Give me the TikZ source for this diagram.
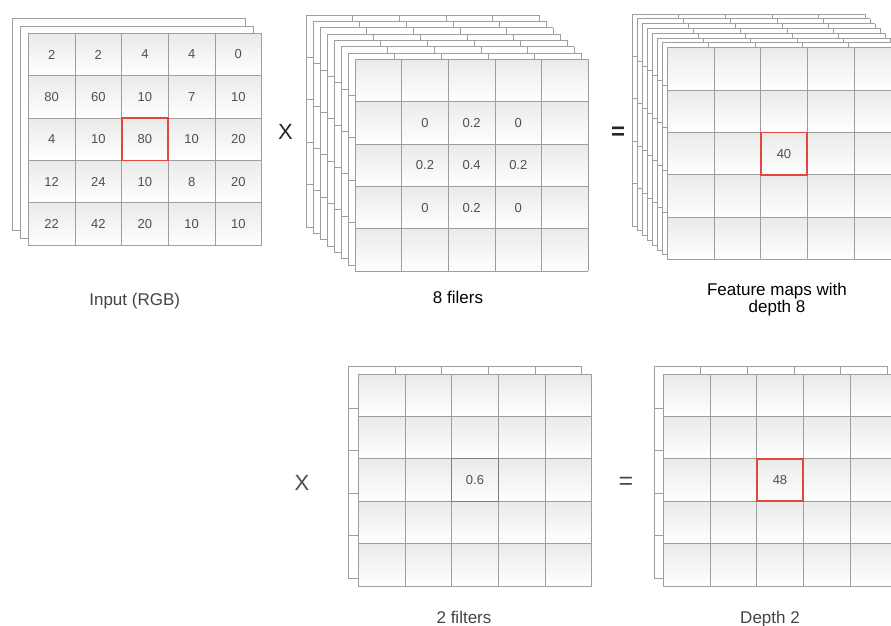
\documentclass[tikz,border=0pt]{standalone}
\usepackage{fontspec}
\setmainfont{Liberation Sans}
\usetikzlibrary{positioning}
\definecolor{gridline}{RGB}{158,158,158}
\definecolor{cellshade}{RGB}{234,234,234}
\definecolor{hilite}{RGB}{228,70,60}
\definecolor{numtext}{RGB}{80,80,80}
\definecolor{captext}{RGB}{68,68,68}
\newcommand{\cw}{46.67}
\newcommand{\ch}{42.4}
\tikzset{
  gridpen/.style={draw=gridline,line width=0.9pt},
  cell/.style={font=\fontsize{13}{15}\selectfont,text=numtext,inner sep=0pt},
  hot/.style={draw=hilite,line width=1.9pt,minimum width=46.67pt,minimum height=42.4pt,inner sep=0pt},
  op/.style={font=\fontsize{22}{24}\selectfont,text=black!85,inner sep=0pt},
  caption/.style={font=\fontsize{17}{17.7}\selectfont,text=captext,inner sep=0pt,anchor=base,align=center},
  % sheets
  pics/plainsheet/.style={code={
    \draw[gridpen,fill=white] (0,0) rectangle (5*\cw,5*\ch);
  }},
  pics/backsheet/.style={code={
    \fill[white] (0,0) rectangle (5*\cw,5*\ch);
    \foreach \k in {0,...,5} {
      \draw[gridpen] (\k*\cw,0) -- (\k*\cw,5*\ch);
      \draw[gridpen] (0,\k*\ch) -- (5*\cw,\k*\ch);
    }
  }},
  pics/frontsheet/.style={code={
    \foreach \r in {0,...,4}
      \foreach \c in {0,...,4}
        \shade[top color=cellshade,bottom color=white] (\c*\cw,\r*\ch) rectangle ++(\cw,\ch);
    \foreach \k in {0,...,5} {
      \draw[gridpen] (\k*\cw,0) -- (\k*\cw,5*\ch);
      \draw[gridpen] (0,\k*\ch) -- (5*\cw,\k*\ch);
    }
  }},
}

\begin{document}
\begin{tikzpicture}[x=1pt,y=-1pt]
  \useasboundingbox (0,0) rectangle (891,626);
  \clip (0,0) rectangle (891,626);

  % input volume
  \foreach \x/\y in {12/18,20/26.5} \pic at (\x,\y) {plainsheet};
  \pic at (28.3,33.3) {frontsheet};
  \begin{scope}[shift={(28.3,33.3)}]
    \foreach \row [count=\r from 0] in {{2,2,4,4,0},{80,60,10,7,10},{4,10,80,10,20},{12,24,10,8,20},{22,42,20,10,10}}
      \foreach \v [count=\c from 0] in \row
        \node[cell] (in-\r-\c) at ({(\c+0.5)*\cw},{(\r+0.5)*\ch}) {\v};
    \node[hot] (in-hot) at ({2.5*\cw},{2.5*\ch}) {};
  \end{scope}
  \node[caption] (lab-in) at (134.7,305) {Input (RGB)};

  % eight filters
  \foreach \s in {7,...,1} \pic at ({355-\s*7},{59.3-\s*6.33}) {backsheet};
  \pic at (355,59.3) {frontsheet};
  \begin{scope}[shift={(355,59.3)}]
    \foreach \row [count=\r from 1] in {{0,0.2,0},{0.2,0.4,0.2},{0,0.2,0}}
      \foreach \v [count=\c from 1] in \row
        \node[cell] (flt-\r-\c) at ({(\c+0.5)*\cw},{(\r+0.5)*\ch}) {\v};
  \end{scope}
  \node[caption,text=black] (lab-flt) at (458,303) {8 filers};

  % feature maps
  \foreach \s in {7,...,1} \pic at ({667.3-\s*5.05},{47.7-\s*4.8}) {backsheet};
  \pic at (667.3,47.7) {frontsheet};
  \node[cell,hot] (fm-hot) at ({667.3+2.5*\cw},{47.7+2.5*\ch}) {40};
  \node[caption,text=black] (lab-fm) at (777,312.7) {Feature maps with\\depth 8};

  % two filters
  \pic at (348.3,366) {backsheet};
  \pic at (358.3,374) {frontsheet};
  \node[cell,draw=gridline!80!black,line width=0.9pt,minimum width=46.67pt,minimum height=42.4pt] (two-mid) at ({358.3+2.5*\cw},{374+2.5*\ch}) {0.6};
  \node[caption] (lab-two) at (464,623) {2 filters};

  % depth two
  \pic at (654,366) {backsheet};
  \pic at (663.3,374) {frontsheet};
  \node[cell,hot] (d2-hot) at ({663.3+2.5*\cw},{374+2.5*\ch}) {48};
  \node[caption] (lab-d2) at (770,623) {Depth 2};

  % operators
  \node[op] (mul-top) at (285.5,132) {X};
  \node[op,font=\fontsize{24}{26}\selectfont\bfseries] (eq-top) at (618,133) {=};
  \node[op,text=black!70] (mul-bot) at (302,483) {X};
  \node[op,text=black!70,font=\fontsize{25}{27}\selectfont] (eq-bot) at (626,483) {=};
\end{tikzpicture}
\end{document}
